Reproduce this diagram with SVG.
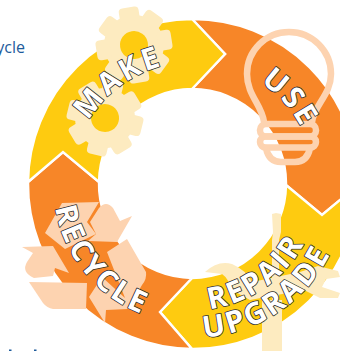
<svg xmlns="http://www.w3.org/2000/svg" width="340" height="351" viewBox="0 0 340 351">
<style>
.y{fill:#fecb10}.o{fill:#f78628}
.seg{stroke:#fff;stroke-width:2.4;stroke-linejoin:miter}
.pe{fill:#fdd3b0}.cr{fill:#fdebc0}
.bl{fill:none;stroke:#fdd3b0;stroke-width:6.5;stroke-linecap:round;stroke-linejoin:round}
.lb{font-family:"Open Sans",sans-serif;font-weight:700;fill:#fff;stroke:#2b2b2b;stroke-width:1.6;paint-order:stroke;stroke-linejoin:round;text-anchor:middle;font-size:30px;letter-spacing:2.500px}
</style>
<defs>
<g id="gear">
<circle r="30" class="cr"/>
<g class="cr"><rect x="-10" y="-38" width="20" height="14" rx="4"/><rect x="-10" y="-38" width="20" height="14" rx="4" transform="rotate(45)"/><rect x="-10" y="-38" width="20" height="14" rx="4" transform="rotate(90)"/><rect x="-10" y="-38" width="20" height="14" rx="4" transform="rotate(135)"/><rect x="-10" y="-38" width="20" height="14" rx="4" transform="rotate(180)"/><rect x="-10" y="-38" width="20" height="14" rx="4" transform="rotate(225)"/><rect x="-10" y="-38" width="20" height="14" rx="4" transform="rotate(270)"/><rect x="-10" y="-38" width="20" height="14" rx="4" transform="rotate(315)"/></g>
<circle r="14" class="y"/>
</g>
<path id="pMake" d="M75.2,215.6A122,122 0 0 1 263,84.1"/>
<path id="pUse" d="M149.3,70.1A122,122 0 0 1 299.7,243.2"/>
<path id="pRec" d="M80.6,100.6A140,140 0 0 0 270,300.9"/>
<path id="pRep" d="M120.7,287.2A126,126 0 0 0 314.7,151.4"/>
<path id="pUpg" d="M106.9,311.7A154,154 0 0 0 341,141.5"/>
</defs>
<text x="25" y="53" text-anchor="end" font-family="Open Sans, sans-serif" font-size="16" fill="#1d5b9b">ycle</text>
<rect x="9" y="349.500" width="2.500" height="1.500" fill="#1d5b9b"/><rect x="34" y="349.500" width="2.500" height="1.500" fill="#1d5b9b"/>
<g id="connectors">
<path class="o seg" d="M192,19A165,165 0 0 1 358,185L322,215L286,185A94,94 0 0 0 192,89L225,54Z"/>
<path class="y seg" d="M358,185A165,165 0 0 1 192,349L160,312L192,278A94,94 0 0 0 286,185L322,215Z"/>
<path class="o seg" d="M192,349A165,165 0 0 1 28,182L63,152L99,182A94,94 0 0 0 192,278L160,312Z"/>
<path class="y seg" d="M28,182A165,165 0 0 1 192,19L225,54L192,89A94,94 0 0 0 99,182L63,152Z"/>
</g>
<g id="make">
<use href="#gear" transform="translate(134,45) rotate(-9)"/>
<use href="#gear" transform="translate(105,118) rotate(14)"/>
<text class="lb"><textPath href="#pMake" startOffset="49%">MAKE</textPath></text>
</g>
<g id="use">
<path class="bl" d="M264,122C262,105 247,95 247,74A42,42 0 0 1 331,74C331,95 314,105 312,122"/>
<rect class="bl" x="260" y="124" width="56" height="12.500" rx="6"/>
<rect class="bl" x="260" y="136.500" width="56" height="11" rx="5.500"/>
<path class="bl" d="M266,148C268,158 274,162 281,162H295C302,162 308,158 310,148"/>
<text class="lb"><textPath href="#pUse" startOffset="49.500%">USE</textPath></text>
</g>
<g id="repair">
<path class="cr" d="M272,214L276,213L281,214L281,232L279,240L279,300H282V351H262V300H272V240L273,232Z"/>
<path class="cr" d="M205,272Q218,260 232,264Q246,270 252,282L300,272L318,266L338,271L340,277L326,279L322,287L340,293L338,298L320,298L304,290L250,300L232,290Q228,278 222,274Z"/>
<text class="lb"><textPath href="#pRep" startOffset="50%">REPAIR</textPath></text>
<text class="lb"><textPath href="#pUpg" startOffset="48.500%">UPGRADE</textPath></text>
</g>
<g id="recycle">
<path class="pe" d="M62,203L99,202L87,222L96,234L65,249L45,233Z"/>
<path class="pe" d="M90,222L99,208Q106,200 113,208L120,221L132,216L117,242L88,241L96,234Z"/>
<path class="pe" d="M107,252L127,239L146,272Q147,279 142,285L128,309L106,310L105,323L89,297L102,277L125,298Z"/>
<path class="pe" d="M22,247L53,246L69,273L55,268L53,276L34,278Q21,272 27,262L33,253Z"/>
<path class="pe" d="M29,282L87,283L86,309L53,309Q47,308 43,303Z"/>
<text class="lb"><textPath href="#pRec" startOffset="47.500%">RECYCLE</textPath></text>
</g>
</svg>
